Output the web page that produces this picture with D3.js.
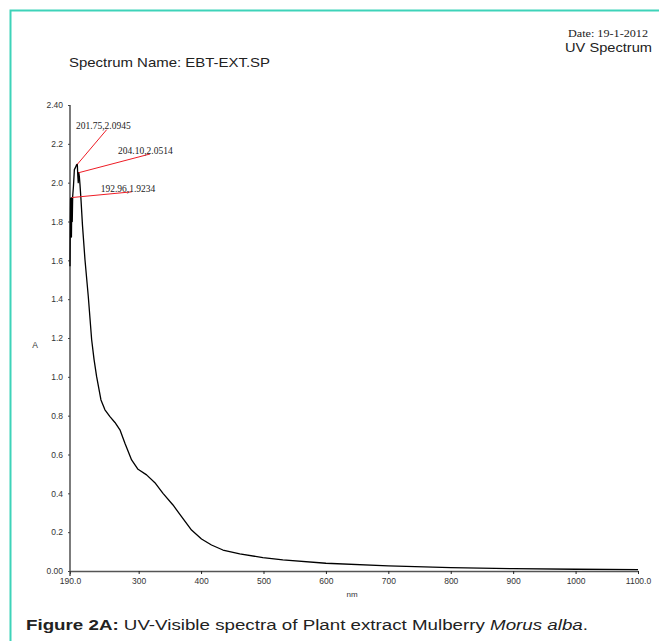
<!DOCTYPE html>
<html><head><meta charset="utf-8">
<script src="https://cdn.jsdelivr.net/npm/d3@7"></script>
<style>body{margin:0;background:#fff;} svg{display:block;}</style>
</head><body>
<script>
// Data
const wavelength = [190,190.5,191,191.8,192.3,192.96,193.6,194.3,195.5,197,199,200.7,201.75,202.4,203.2,204.1,205,206,207.6,210,214,219.3,224.7,228.5,232.6,239.6,246,254,262,270,278,288.7,299,312.7,326,339,355,368.7,384.7,400.7,416.7,435,462,499,531,600,700,800,900,1000,1100];
const absorbance = [1.57,1.80,1.92,1.78,1.72,1.9234,1.80,1.93,1.98,2.067,2.08,2.093,2.0945,2.04,2.00,2.0514,2.03,1.99,1.913,1.78,1.603,1.414,1.191,1.09,1.002,0.881,0.83,0.795,0.765,0.727,0.658,0.572,0.524,0.495,0.455,0.40,0.34,0.28,0.211,0.165,0.134,0.108,0.088,0.069,0.057,0.04,0.026,0.017,0.012,0.009,0.007];
const peakNm = [201.75, 204.10, 192.96];
const peakA = [2.0945, 2.0514, 1.9234];
const peakLabels = ["201.75,2.0945","204.10,2.0514","192.96,1.9234"];
const xTicks = [190,300,400,500,600,700,800,900,1000,1100];
const xTickLabels = ["190.0","300","400","500","600","700","800","900","1000","1100.0"];
const yTicks = [0,0.2,0.4,0.6,0.8,1.0,1.2,1.4,1.6,1.8,2.0,2.2,2.4];
const yTickLabels = ["0.00","0.2","0.4","0.6","0.8","1.0","1.2","1.4","1.6","1.8","2.0","2.2","2.40"];

const W = 659, H = 641;
const svg = d3.select("body").append("svg").attr("width", W).attr("height", H);

// frame
svg.append("path").attr("d", `M10.5,${H} V10.5 H${W}`).attr("fill","none").attr("stroke","#3ed3b9").attr("stroke-width",2);

const x = d3.scaleLinear().domain([190,1100]).range([70,638]);
const y = d3.scaleLinear().domain([0,2.4]).range([571,105]);

const fAx = "Liberation Sans, Arial, sans-serif";
const fSerif = "Liberation Serif, Times New Roman, serif";

// axes
const xAxis = d3.axisBottom(x).tickValues(xTicks).tickSize(3).tickSizeOuter(0).tickPadding(4)
  .tickFormat((d,i)=>xTickLabels[i]);
const gx = svg.append("g").attr("transform","translate(0,571)").call(xAxis);
gx.select(".domain").attr("stroke","#555").attr("stroke-width",1.6);
gx.selectAll(".tick line").attr("stroke","#222");
gx.selectAll("text").attr("font-family",fAx).attr("font-size",8.5).attr("fill","#333");

const yAxis = d3.axisLeft(y).tickValues(yTicks).tickSize(2).tickSizeOuter(0).tickPadding(5)
  .tickFormat((d,i)=>yTickLabels[i]);
const gy = svg.append("g").attr("transform","translate(70,0)").call(yAxis);
gy.select(".domain").attr("stroke","#444").attr("stroke-width",1.4).attr("d","M0,105V576");
gy.selectAll(".tick line").attr("stroke","#444");
gy.selectAll("text").attr("font-family",fAx).attr("font-size",8.5).attr("fill","#333");

// curve
const line = d3.line().x((d,i)=>x(wavelength[i])).y(d=>y(d));
svg.append("path").datum(absorbance).attr("d", line).attr("fill","none").attr("stroke","#000").attr("stroke-width",1.3).attr("stroke-linejoin","round");

// peak annotations
const lineOff = [[29.4,-34.7],[71.2,-18.7],[59.9,-5.7]];
const textOff = [[-1.3,-35.7],[39.2,-18.5],[28.8,-6]];
peakNm.forEach((nm,i)=>{
  const px = x(nm), py = y(peakA[i]);
  svg.append("line").attr("x1",px).attr("y1",py).attr("x2",px+lineOff[i][0]).attr("y2",py+lineOff[i][1])
    .attr("stroke","#ee1c25").attr("stroke-width",1);
  svg.append("text").attr("x",px+textOff[i][0]).attr("y",py+textOff[i][1]).text(peakLabels[i])
    .attr("font-family",fSerif).attr("font-size",9.5).attr("fill","#222");
});

// axis titles
svg.append("text").attr("x",35).attr("y",348).attr("text-anchor","middle").text("A")
  .attr("font-family",fAx).attr("font-size",8.5).attr("fill","#333");
svg.append("text").attr("x",352).attr("y",597).attr("text-anchor","middle").text("nm")
  .attr("font-family",fAx).attr("font-size",8).attr("fill","#333");

// header texts
svg.append("text").attr("x",69).attr("y",67).text("Spectrum Name: EBT-EXT.SP")
  .attr("font-family",fAx).attr("font-size",13).attr("fill","#222")
  .attr("textLength",201).attr("lengthAdjust","spacingAndGlyphs");
svg.append("text").attr("x",565).attr("y",52).text("UV Spectrum")
  .attr("font-family",fAx).attr("font-size",13.5).attr("fill","#222")
  .attr("textLength",87).attr("lengthAdjust","spacingAndGlyphs");
svg.append("text").attr("x",568).attr("y",37).text("Date: 19-1-2012")
  .attr("font-family",fSerif).attr("font-size",11).attr("fill","#222")
  .attr("textLength",80).attr("lengthAdjust","spacingAndGlyphs");

// caption
const cap = svg.append("text").attr("x",26).attr("y",630)
  .attr("font-family",fAx).attr("font-size",15.5).attr("fill","#222")
  .attr("textLength",562).attr("lengthAdjust","spacingAndGlyphs");
cap.append("tspan").attr("font-weight","bold").text("Figure 2A:");
cap.append("tspan").text(" UV-Visible spectra of Plant extract Mulberry ");
cap.append("tspan").attr("font-style","italic").text("Morus alba");
cap.append("tspan").text(".");
</script>
</body></html>
